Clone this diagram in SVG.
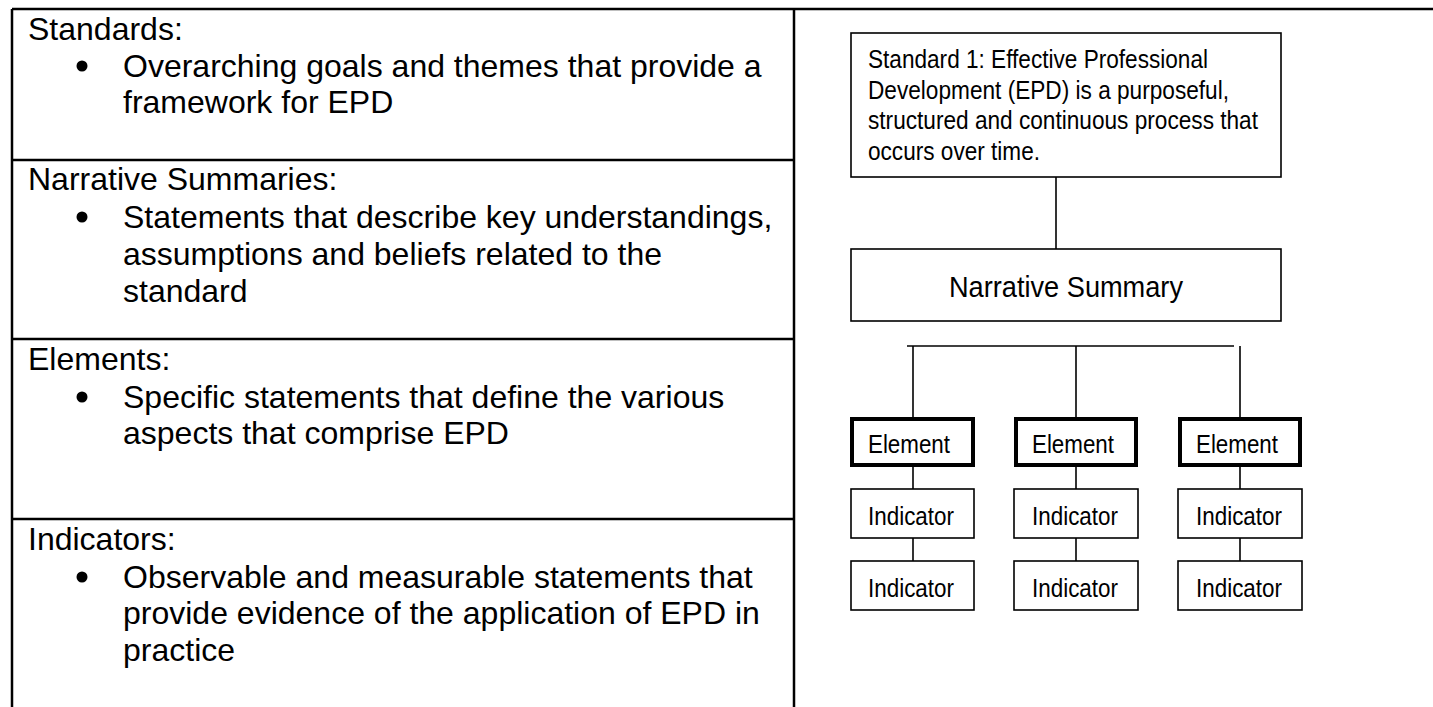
<svg xmlns="http://www.w3.org/2000/svg" width="1433" height="707" viewBox="0 0 1433 707">
<style>
.grid{stroke:#000;stroke-width:2.5;fill:none}
.lt{font-family:"Liberation Sans",Arial,sans-serif;font-size:32px;fill:#000}
.box{fill:#fff;stroke:#000;stroke-width:1.6}
.el{fill:#fff;stroke:#000;stroke-width:4}
.rt{font-family:"Liberation Sans",Arial,sans-serif;font-size:25.5px;fill:#000}
.conn{stroke:#000;stroke-width:1.6;fill:none}
</style>
<rect width="1433" height="707" fill="#fff"/>
<g id="table">
<line class="grid" x1="12" y1="9" x2="1433" y2="9"/>
<line class="grid" x1="12" y1="9" x2="12" y2="707"/>
<line class="grid" x1="794" y1="9" x2="794" y2="707"/>
<line class="grid" x1="12" y1="160" x2="794" y2="160"/>
<line class="grid" x1="12" y1="339" x2="794" y2="339"/>
<line class="grid" x1="12" y1="519" x2="794" y2="519"/>
</g>
<g id="standards">
<text class="lt" x="28" y="40">Standards:</text>
<circle cx="82" cy="66" r="5.5"/>
<text class="lt" x="123" y="77">Overarching goals and themes that provide a</text>
<text class="lt" x="123" y="113">framework for EPD</text>
</g>
<g id="narratives">
<text class="lt" x="28" y="190">Narrative Summaries:</text>
<circle cx="82" cy="217" r="5.5"/>
<text class="lt" x="123" y="228">Statements that describe key understandings,</text>
<text class="lt" x="123" y="265">assumptions and beliefs related to the</text>
<text class="lt" x="123" y="302">standard</text>
</g>
<g id="elements">
<text class="lt" x="28" y="370">Elements:</text>
<circle cx="82" cy="397" r="5.5"/>
<text class="lt" x="123" y="408">Specific statements that define the various</text>
<text class="lt" x="123" y="444">aspects that comprise EPD</text>
</g>
<g id="indicators">
<text class="lt" x="28" y="550">Indicators:</text>
<circle cx="82" cy="577" r="5.5"/>
<text class="lt" x="123" y="588">Observable and measurable statements that</text>
<text class="lt" x="123" y="624">provide evidence of the application of EPD in</text>
<text class="lt" x="123" y="661">practice</text>
</g>
<g id="connectors">
<line class="conn" x1="1056" y1="177" x2="1056" y2="249"/>
<line class="conn" x1="907" y1="346" x2="1234" y2="346"/>
<line class="conn" x1="913" y1="346" x2="913" y2="417"/>
<line class="conn" x1="1076" y1="346" x2="1076" y2="417"/>
<line class="conn" x1="1240" y1="346" x2="1240" y2="417"/>
<line class="conn" x1="913" y1="467" x2="913" y2="489"/>
<line class="conn" x1="1076" y1="467" x2="1076" y2="489"/>
<line class="conn" x1="1240" y1="467" x2="1240" y2="489"/>
<line class="conn" x1="913" y1="538" x2="913" y2="561"/>
<line class="conn" x1="1076" y1="538" x2="1076" y2="561"/>
<line class="conn" x1="1240" y1="538" x2="1240" y2="561"/>
</g>
<g id="standard1">
<rect class="box" x="851" y="33" width="430" height="144"/>
<text class="rt" x="868" y="68" textLength="340" lengthAdjust="spacingAndGlyphs">Standard 1: Effective Professional</text>
<text class="rt" x="868" y="99" textLength="361" lengthAdjust="spacingAndGlyphs">Development (EPD) is a purposeful,</text>
<text class="rt" x="868" y="129" textLength="390" lengthAdjust="spacingAndGlyphs">structured and continuous process that</text>
<text class="rt" x="868" y="160" textLength="172" lengthAdjust="spacingAndGlyphs">occurs over time.</text>
</g>
<g id="narrative-summary">
<rect class="box" x="851" y="249" width="430" height="72"/>
<text class="rt" style="font-size:30px" x="949" y="297" textLength="234" lengthAdjust="spacingAndGlyphs">Narrative Summary</text>
</g>
<g id="element1"><rect class="el" x="852" y="419" width="121" height="46"/><text class="rt" x="868" y="453" textLength="82" lengthAdjust="spacingAndGlyphs">Element</text></g>
<g id="element2"><rect class="el" x="1016" y="419" width="120" height="46"/><text class="rt" x="1032" y="453" textLength="82" lengthAdjust="spacingAndGlyphs">Element</text></g>
<g id="element3"><rect class="el" x="1180" y="419" width="120" height="46"/><text class="rt" x="1196" y="453" textLength="82" lengthAdjust="spacingAndGlyphs">Element</text></g>
<g id="indicator1a"><rect class="box" x="851" y="489" width="123" height="49"/><text class="rt" x="868" y="525" textLength="86" lengthAdjust="spacingAndGlyphs">Indicator</text></g>
<g id="indicator2a"><rect class="box" x="1014" y="489" width="124" height="49"/><text class="rt" x="1032" y="525" textLength="86" lengthAdjust="spacingAndGlyphs">Indicator</text></g>
<g id="indicator3a"><rect class="box" x="1178" y="489" width="124" height="49"/><text class="rt" x="1196" y="525" textLength="86" lengthAdjust="spacingAndGlyphs">Indicator</text></g>
<g id="indicator1b"><rect class="box" x="851" y="561" width="123" height="49"/><text class="rt" x="868" y="597" textLength="86" lengthAdjust="spacingAndGlyphs">Indicator</text></g>
<g id="indicator2b"><rect class="box" x="1014" y="561" width="124" height="49"/><text class="rt" x="1032" y="597" textLength="86" lengthAdjust="spacingAndGlyphs">Indicator</text></g>
<g id="indicator3b"><rect class="box" x="1178" y="561" width="124" height="49"/><text class="rt" x="1196" y="597" textLength="86" lengthAdjust="spacingAndGlyphs">Indicator</text></g>
</svg>
